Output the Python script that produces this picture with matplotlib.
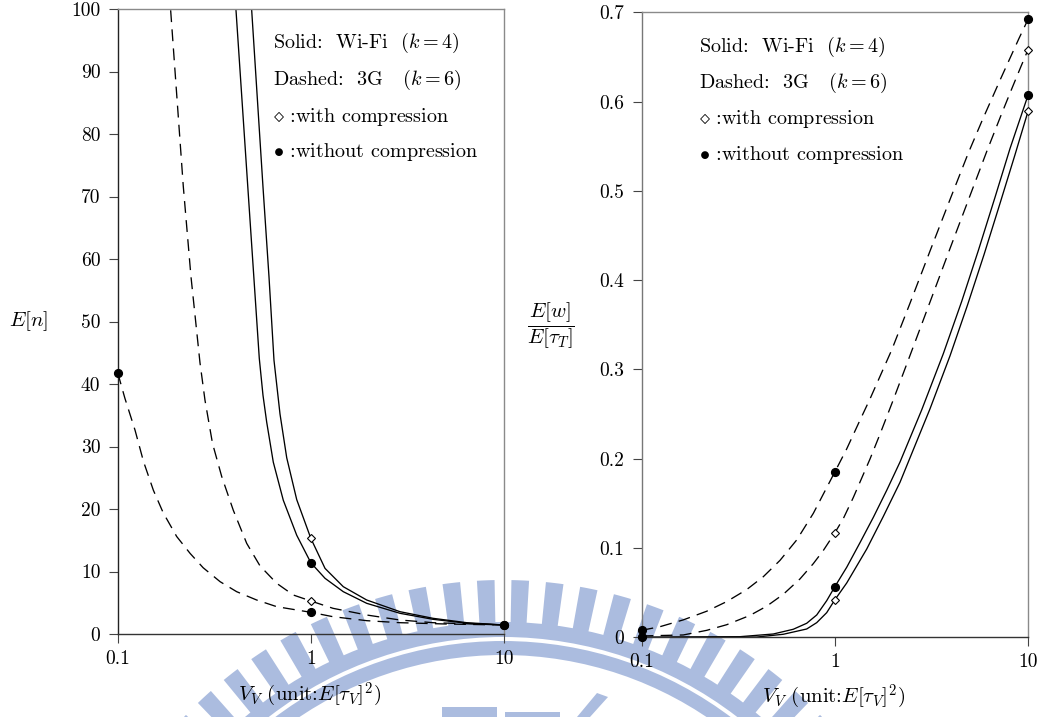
import matplotlib
matplotlib.use('Agg')
import matplotlib.pyplot as plt
from matplotlib.patches import Wedge, Rectangle, Polygon
from matplotlib.ticker import NullLocator

plt.rcParams['font.family'] = ['cmr10', 'DejaVu Serif']
plt.rcParams['mathtext.fontset'] = 'cm'
plt.rcParams['axes.formatter.use_mathtext'] = True
plt.rcParams['axes.unicode_minus'] = False

# ---------------- data: left panel  E[n] ----------------
l_x_3g_nc = [0.1, 0.109, 0.123, 0.136, 0.153, 0.172, 0.202, 0.237, 0.277, 0.339, 0.413,
             0.524, 0.666, 1.0, 1.30, 1.95, 2.89, 5.0, 10.0]
l_y_3g_nc = [41.8, 37.7, 32.6, 27.6, 23.0, 19.4, 15.6, 12.9, 10.6, 8.37, 6.77,
             5.44, 4.37, 3.47, 2.77, 2.13, 1.81, 1.6, 1.44]

l_x_3g_c = [0.188, 0.2186, 0.2395, 0.2667, 0.2831, 0.3096, 0.3455, 0.3967, 0.4655, 0.5454,
            0.6656, 0.811, 1.0, 1.302, 1.946, 2.894, 4.29, 10.0]
l_y_3g_c = [99.8, 71.6, 57.2, 43.4, 37.4, 30.5, 25.2, 19.8, 14.5, 10.9,
            8.11, 6.24, 5.28, 4.11, 3.04, 2.24, 1.81, 1.44]

l_x_wifi_nc = [0.4097, 0.4705, 0.5408, 0.5652, 0.5907, 0.639, 0.720, 0.845, 1.0, 1.184,
               1.472, 1.946, 2.894, 4.29, 6.41, 10.0]
l_y_wifi_nc = [99.8, 72.0, 44.1, 38.2, 33.9, 27.5, 21.4, 15.8, 11.4, 8.91,
               6.77, 4.91, 3.31, 2.35, 1.72, 1.44]

l_x_wifi_c = [0.494, 0.565, 0.607, 0.6444, 0.6923, 0.75, 0.845, 1.0, 1.184, 1.472,
              1.946, 2.894, 4.29, 6.41, 10.0]
l_y_wifi_c = [99.8, 71.6, 57.2, 43.8, 35.2, 28.2, 21.5, 15.3, 10.5, 7.57,
              5.44, 3.57, 2.51, 1.81, 1.44]

# markers (left)
l_dot_x = [0.1, 1.0, 10.0, 1.0, 10.0]
l_dot_y = [41.8, 3.47, 1.44, 11.4, 1.44]
l_dia_x = [1.0, 10.0, 1.0, 10.0]
l_dia_y = [5.28, 1.44, 15.3, 1.44]

# ---------------- data: right panel  E[w]/E[tau_T] ----------------
r_x_3g_nc = [0.1, 0.1247, 0.1645, 0.2175, 0.276, 0.350, 0.427, 0.521, 0.636, 0.775, 1.0,
             1.153, 1.351, 1.522, 1.971, 2.451, 3.111, 3.948, 4.911, 5.80, 7.22, 8.98, 10.0]
r_y_3g_nc = [0.0078, 0.0119, 0.0195, 0.0292, 0.040, 0.0534, 0.0679, 0.0862, 0.1091, 0.1389, 0.185,
             0.211, 0.2432, 0.267, 0.3218, 0.3741, 0.4326, 0.4903, 0.5424, 0.5792, 0.6256, 0.6707, 0.692]

r_x_3g_c = [0.1, 0.1645, 0.2175, 0.276, 0.364, 0.444, 0.542, 0.661, 0.7745, 0.873, 1.0,
            1.107, 1.247, 1.522, 1.715, 2.009, 2.55, 3.111, 3.948, 5.01, 6.113, 7.31, 8.24, 9.17, 10.0]
r_y_3g_c = [0.0015, 0.0026, 0.0078, 0.0141, 0.0245, 0.0348, 0.0482, 0.0654, 0.0825, 0.0973, 0.1168,
            0.1329, 0.1565, 0.1997, 0.2276, 0.266, 0.3255, 0.3755, 0.4354, 0.4946, 0.544, 0.5866,
            0.6143, 0.6387, 0.658]

r_x_wifi_nc = [0.1, 0.3234, 0.4808, 0.6101, 0.7158, 0.8066, 0.9085, 1.0, 1.153, 1.351,
               1.584, 1.857, 2.176, 2.818, 3.645, 4.54, 5.53, 6.75, 8.07, 10.0]
r_y_wifi_nc = [0.0, 0.0007, 0.0037, 0.009, 0.0157, 0.025, 0.041, 0.0565, 0.0784, 0.106,
               0.1344, 0.1646, 0.1963, 0.2547, 0.3176, 0.3763, 0.433, 0.4928, 0.5474, 0.607]

r_x_wifi_c = [0.1, 0.3946, 0.5418, 0.7158, 0.8066, 0.9085, 1.0, 1.153, 1.464, 1.783, 2.176,
              3.111, 3.948, 4.853, 5.92, 7.16, 8.56, 10.0]
r_y_wifi_c = [0.0, 0.0003, 0.0034, 0.0093, 0.0164, 0.0276, 0.0418, 0.0608, 0.0989, 0.1353, 0.1736,
              0.2559, 0.3152, 0.3715, 0.4285, 0.4858, 0.5403, 0.589]

# markers (right)
r_dot_x = [0.1, 1.0, 10.0, 0.1, 1.0, 10.0]
r_dot_y = [0.0078, 0.185, 0.692, 0.0, 0.0565, 0.607]
r_dia_x = [0.1, 1.0, 10.0, 0.1, 1.0, 10.0]
r_dia_y = [0.0015, 0.1168, 0.658, 0.0, 0.0418, 0.589]

x_ticks = [0.1, 1, 10]
x_ticklabels = ['0.1', '1', '10']
l_yticks = list(range(0, 101, 10))
r_yticks = [0, 0.1, 0.2, 0.3, 0.4, 0.5, 0.6, 0.7]
r_yticklabels = ['0', '0.1', '0.2', '0.3', '0.4', '0.5', '0.6', '0.7']

legend_lines = [r'Solid:  Wi-Fi  ($k=4$)',
                r'Dashed:  3G   ($k=6$)',
                r'$\diamond$ :with compression',
                r'$\bullet$ :without compression']
xlabel = r'$V_V$ (unit:$E[\tau_V]^2$)'

W, H = 1046, 717
fig = plt.figure(figsize=(W / 100, H / 100), dpi=100)

# ---------------- watermark (background logo) ----------------
wm = fig.add_axes([0, 0, 1, 1], zorder=-5)
wm.set_xlim(0, W)
wm.set_ylim(0, H)
wm.axis('off')
wmc = '#abbcdf'
cx, cy = 503, H - 1020
for k in range(-12, 12):
    ang = 90 + 2.25 + 4.5 * k
    wm.add_patch(Wedge((cx, cy), 440, ang - 1.15, ang + 1.15, width=43, facecolor=wmc, lw=0))
wm.add_patch(Wedge((cx, cy), 398, 15, 165, width=15, facecolor=wmc, lw=0))
wm.add_patch(Wedge((cx, cy), 379, 15, 165, width=14, facecolor=wmc, lw=0))
wm.add_patch(Rectangle((442, 0), 55, 10, facecolor=wmc, lw=0))
wm.add_patch(Rectangle((505, 0), 55, 5, facecolor=wmc, lw=0))
wm.add_patch(Polygon([(577, 0), (597, 24), (608, 20), (590, 0)], closed=True, facecolor=wmc, lw=0))


def make_axes(rect, ylim, yticks, yticklabels, left_col):
    ax = fig.add_axes(rect)
    ax.patch.set_alpha(0)
    ax.set_xscale('log')
    ax.set_xlim(0.1, 10)
    ax.set_ylim(*ylim)
    ax.set_xticks(x_ticks)
    ax.set_xticklabels(x_ticklabels)
    ax.xaxis.set_minor_locator(NullLocator())
    ax.set_yticks(yticks)
    ax.set_yticklabels(yticklabels)
    ax.tick_params(direction='out', length=6.5, width=0.8, color='#444444',
                   labelsize=14, top=False, right=False)
    ax.tick_params(axis='y', pad=6)
    ax.tick_params(axis='x', pad=5)
    for s in ['top', 'right']:
        ax.spines[s].set_color('#8a8a8a')
        ax.spines[s].set_linewidth(1.0)
    ax.spines['left'].set_color(left_col)
    ax.spines['bottom'].set_color('#333333')
    ax.spines['left'].set_linewidth(1.0)
    ax.spines['bottom'].set_linewidth(1.0)
    return ax


def draw_lines(ax, xs, ys, dashed):
    if dashed:
        ax.plot(xs, ys, color='k', lw=0.95, dashes=(9, 5.5))
    else:
        ax.plot(xs, ys, color='k', lw=0.95)


def draw_markers(ax, dx, dy, mx, my):
    ax.plot(mx, my, linestyle='none', marker='D', ms=3.8, mfc='white', mec='k',
            mew=0.8, clip_on=False, zorder=5)
    ax.plot(dx, dy, linestyle='none', marker='o', ms=5.6, color='k',
            clip_on=False, zorder=6)


# ---------------- left panel ----------------
ax1 = make_axes([117.7 / W, 1 - 634 / H, 386.3 / W, 625 / H], (0, 100),
                l_yticks, [str(v) for v in l_yticks], '#222222')
draw_lines(ax1, l_x_3g_nc, l_y_3g_nc, True)
draw_lines(ax1, l_x_3g_c, l_y_3g_c, True)
draw_lines(ax1, l_x_wifi_nc, l_y_wifi_nc, False)
draw_lines(ax1, l_x_wifi_c, l_y_wifi_c, False)
draw_markers(ax1, l_dot_x, l_dot_y, l_dia_x, l_dia_y)

# ---------------- right panel ----------------
ax2 = make_axes([641.5 / W, 1 - 637.3 / H, 386.5 / W, 625 / H], (0, 0.7),
                r_yticks, r_yticklabels, '#777777')
draw_lines(ax2, r_x_3g_nc, r_y_3g_nc, True)
draw_lines(ax2, r_x_3g_c, r_y_3g_c, True)
draw_lines(ax2, r_x_wifi_nc, r_y_wifi_nc, False)
draw_lines(ax2, r_x_wifi_c, r_y_wifi_c, False)
draw_markers(ax2, r_dot_x, r_dot_y, r_dia_x, r_dia_y)

# ---------------- legends as text ----------------
for (x0, ys) in [(272.7, [43.3, 80, 116.7, 151.7]), (699, [47, 83, 119, 155])]:
    for txt, yy in zip(legend_lines, ys):
        fig.text(x0 / W, 1 - yy / H, txt, fontsize=14.5, ha='left', va='center')

# ---------------- axis labels ----------------
fig.text(29 / W, 1 - 321 / H, r'$E[n]$', fontsize=15, ha='center', va='center')
fig.text(551 / W, 1 - 326 / H, r'$\dfrac{E[w]}{E[\tau_T]}$', fontsize=15, ha='center', va='center')
fig.text(310 / W, 1 - 695 / H, xlabel, fontsize=15, ha='center', va='center')
fig.text(834 / W, 1 - 697 / H, xlabel, fontsize=15, ha='center', va='center')

fig.savefig('out.png', dpi=100)
